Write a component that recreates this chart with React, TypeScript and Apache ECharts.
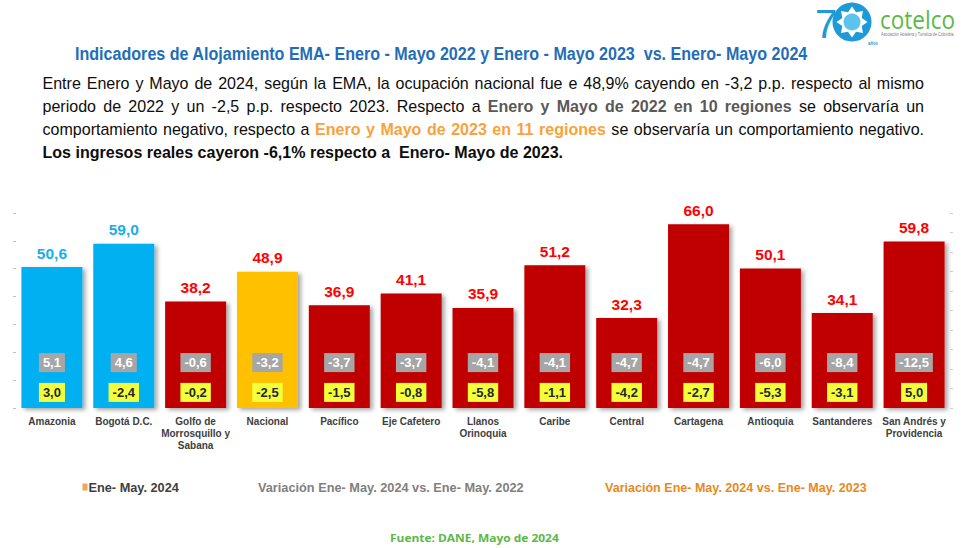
import React, { useEffect, useRef } from 'react';
import * as echarts from 'echarts';

// ---------- data ----------
const categories = [
  'Amazonia',
  'Bogotá D.C.',
  'Golfo de\nMorrosquillo y\nSabana',
  'Nacional',
  'Pacífico',
  'Eje Cafetero',
  'Llanos\nOrinoquia',
  'Caribe',
  'Central',
  'Cartagena',
  'Antioquia',
  'Santanderes',
  'San Andrés y\nProvidencia',
];
const occupancy2024 = [50.6, 59.0, 38.2, 48.9, 36.9, 41.1, 35.9, 51.2, 32.3, 66.0, 50.1, 34.1, 59.8];
const variationVs2022 = [5.1, 4.6, -0.6, -3.2, -3.7, -3.7, -4.1, -4.1, -4.7, -4.7, -6.0, -8.4, -12.5];
const variationVs2023 = [3.0, -2.4, -0.2, -2.5, -1.5, -0.8, -5.8, -1.1, -4.2, -2.7, -5.3, -3.1, 5.0];
const nationalCategory = 'Nacional';
const legendLabels = [
  'Ene- May. 2024',
  'Variación Ene- May. 2024 vs. Ene- May. 2022',
  'Variación Ene- May. 2024 vs. Ene- May. 2023',
];
const titleText =
  'Indicadores de Alojamiento EMA- Enero - Mayo 2022 y Enero - Mayo 2023  vs. Enero- Mayo 2024';
const sourceText = 'Fuente: DANE, Mayo de 2024';
const bodyLines = [
  [{ t: 'Entre Enero y Mayo de 2024, según la EMA, la ocupación nacional fue e 48,9% cayendo en -3,2 p.p. respecto al mismo', k: 'n' }],
  [
    { t: 'periodo de 2022 y un -2,5 p.p. respecto 2023. Respecto a', k: 'n' },
    { t: 'Enero y Mayo de 2022 en 10 regiones', k: 'g' },
    { t: 'se observaría un', k: 'n' },
  ],
  [
    { t: 'comportamiento negativo, respecto a', k: 'n' },
    { t: 'Enero y Mayo de 2023 en 11 regiones', k: 'o' },
    { t: 'se observaría un comportamiento negativo.', k: 'n' },
  ],
  [{ t: 'Los ingresos reales cayeron -6,1% respecto a  Enero- Mayo de 2023.', k: 'b' }],
];

// ---------- styles ----------
const FONT = "'Liberation Sans', Arial, Helvetica, sans-serif";
const BLUE_BAR = '#00B0F0';
const RED_BAR = '#C00000';
const YELLOW_BAR = '#FFC000';
const BLUE_LABEL = '#19AEE8';
const RED_LABEL = '#FF0000';
const GREY_BOX = '#A6A6A6';
const YELLOW_BOX = '#F4FF3C';
const GREY_ROW = 16.3; // value-axis height where the grey boxes sit
const YELLOW_ROW = 5.6; // value-axis height where the yellow boxes sit

const fmt = (v: number) => v.toFixed(1).replace('.', ',');

let measureCtx: CanvasRenderingContext2D | null = null;
function measure(text: string, weight: string, size: number, family: string) {
  if (!measureCtx) measureCtx = document.createElement('canvas').getContext('2d');
  measureCtx!.font = `${weight} ${size}px ${family}`;
  return measureCtx!.measureText(text).width;
}

function textEl(text: string, x: number, y: number, scaleX: number, weight: string, size: number, family: string, fill: string) {
  return {
    type: 'text',
    x,
    y,
    scaleX,
    silent: true,
    style: {
      text,
      fill,
      fontSize: size,
      fontWeight: weight,
      fontFamily: family,
      textAlign: 'left',
      textVerticalAlign: 'middle',
      align: 'left',
      verticalAlign: 'middle',
    },
  };
}

function fitText(text: string, x0: number, x1: number, y: number, weight: string, size: number, family: string, fill: string) {
  const w = measure(text, weight, size, family);
  return textEl(text, x0, y, (x1 - x0) / w, weight, size, family, fill);
}

const segStyle: Record<string, { weight: string; color: string }> = {
  n: { weight: 'normal', color: '#0D0D0D' },
  g: { weight: 'bold', color: '#595959' },
  o: { weight: 'bold', color: '#FAA23A' },
  b: { weight: 'bold', color: '#0D0D0D' },
};

function buildBody() {
  const size = 16.4;
  const left = 42.5;
  const right = 924;
  const ys = [83, 105.5, 129, 151.7];
  const last = bodyLines[3][0].t;
  const scale = (563 - left) / measure(last, 'bold', size, FONT);
  const els: any[] = [];
  bodyLines.forEach((line, li) => {
    if (li === 3) {
      els.push(textEl(last, left, ys[li], scale, 'bold', size, FONT, segStyle.b.color));
      return;
    }
    const words: { w: string; k: string }[] = [];
    line.forEach((seg) => seg.t.split(' ').filter((w) => w).forEach((w) => words.push({ w, k: seg.k })));
    const widths = words.map((o) => measure(o.w, segStyle[o.k].weight, size, FONT) * scale);
    const total = widths.reduce((a, b) => a + b, 0);
    const gap = (right - left - total) / (words.length - 1);
    let x = left;
    words.forEach((o, i) => {
      els.push(textEl(o.w, x, ys[li], scale, segStyle[o.k].weight, size, FONT, segStyle[o.k].color));
      x += widths[i] + gap;
    });
  });
  return els;
}

function buildLogo() {
  const cx = 852;
  const cy = 22;
  const pts: number[][] = [];
  for (let k = 0; k < 16; k++) {
    const r = k % 2 === 0 ? 15.5 : 10.5;
    const a = (k * Math.PI) / 8 - Math.PI / 2;
    pts.push([cx + r * Math.cos(a), cy + r * Math.sin(a)]);
  }
  return [
    textEl('7', 815, 24, 1.0, 'normal', 40, FONT, '#1E9BD7'),
    { type: 'circle', silent: true, shape: { cx, cy, r: 19.5 }, style: { fill: '#1E9BD7' } },
    { type: 'polygon', silent: true, shape: { points: pts }, style: { fill: '#FFFFFF' } },
    { type: 'circle', silent: true, shape: { cx, cy, r: 8.5 }, style: { fill: '#5BC3EE' } },
    fitText('cotelco', 880, 955, 19, 'normal', 26, "'Open Sans', sans-serif", '#5CB947'),
    fitText('Asociación Hotelera y Turística de Colombia', 881, 954, 34.5, 'normal', 5, FONT, '#7A7A7A'),
    fitText('años', 868, 878, 43, 'bold', 5, FONT, '#1E9BD7'),
  ];
}

function buildOption() {
  const barData = occupancy2024.map((v, i) => {
    const positive = variationVs2022[i] > 0;
    const isNational = categories[i] === nationalCategory;
    return {
      value: v,
      itemStyle: { color: isNational ? YELLOW_BAR : positive ? BLUE_BAR : RED_BAR },
      label: { color: positive ? BLUE_LABEL : RED_LABEL },
    };
  });

  const tickAxis = (pos: 'left' | 'right', max: number, interval: number, color: string) => ({
    type: 'value',
    position: pos,
    min: 0,
    max,
    interval,
    axisLine: { show: false },
    axisTick: { show: true, length: 3, lineStyle: { color, width: 1 } },
    axisLabel: { show: false },
    splitLine: { show: false },
  });

  const boxLabel = (bg: string, color: string) => ({
    show: true,
    position: 'inside',
    formatter: (p: any) => fmt(p.value[2]),
    backgroundColor: bg,
    color,
    opacity: 1,
    fontFamily: FONT,
    fontWeight: 'bold',
    fontSize: 13,
    lineHeight: 13,
    padding: [3, 4, 3, 4],
  });

  return {
    animation: false,
    backgroundColor: '#FFFFFF',
    grid: { left: 16, right: 24, top: 213, bottom: 140, containLabel: false },
    xAxis: {
      type: 'category',
      data: categories,
      axisLine: { show: false },
      axisTick: { show: false },
      axisLabel: {
        interval: 0,
        fontSize: 10,
        fontWeight: 'bold',
        fontFamily: FONT,
        color: '#404040',
        lineHeight: 12,
        margin: 7,
      },
    },
    yAxis: [tickAxis('left', 70, 10, '#BFBFBF'), tickAxis('right', 10, 1, '#D0D0D0')],
    series: [
      {
        name: legendLabels[0],
        type: 'bar',
        data: barData,
        barWidth: 61,
        itemStyle: {
          shadowColor: 'rgba(0,0,0,0.35)',
          shadowBlur: 4,
          shadowOffsetX: 3,
          shadowOffsetY: 2,
        },
        label: {
          show: true,
          position: 'top',
          distance: 6,
          fontSize: 15.5,
          fontWeight: 'bold',
          fontFamily: FONT,
          formatter: (p: any) => fmt(p.value),
        },
      },
      {
        name: legendLabels[1],
        type: 'scatter',
        data: variationVs2022.map((v, i) => [i, GREY_ROW, v]),
        symbolSize: 1,
        itemStyle: { color: 'rgba(0,0,0,0)', opacity: 1 },
        label: boxLabel(GREY_BOX, '#FFFFFF'),
        z: 5,
      },
      {
        name: legendLabels[2],
        type: 'scatter',
        data: variationVs2023.map((v, i) => [i, YELLOW_ROW, v]),
        symbolSize: 1,
        itemStyle: { color: 'rgba(0,0,0,0)', opacity: 1 },
        label: boxLabel(YELLOW_BOX, '#262626'),
        z: 5,
      },
    ],
    graphic: [
      fitText(titleText, 75, 808, 54.5, 'bold', 18, FONT, '#1F6EB8'),
      ...buildBody(),
      ...buildLogo(),
      { type: 'rect', silent: true, shape: { x: 82.5, y: 483.5, width: 5, height: 7 }, style: { fill: '#F5A555' } },
      fitText(legendLabels[0], 88.5, 179, 487, 'bold', 13, FONT, '#404040'),
      fitText(legendLabels[1], 258, 524, 487, 'bold', 13, FONT, '#808080'),
      fitText(legendLabels[2], 605, 867, 487, 'bold', 13, FONT, '#E8891C'),
      fitText(sourceText, 390, 559, 538, 'bold', 11, "'Open Sans', sans-serif", '#5DB847'),
    ],
  };
}

export default function App() {
  const ref = useRef<HTMLDivElement>(null);
  useEffect(() => {
    const chart = echarts.init(ref.current!, null, { renderer: 'svg' });
    chart.setOption(buildOption() as any);
    return () => chart.dispose();
  }, []);
  return <div ref={ref} style={{ position: 'absolute', left: 0, top: 0, width: 974, height: 548 }} />;
}
